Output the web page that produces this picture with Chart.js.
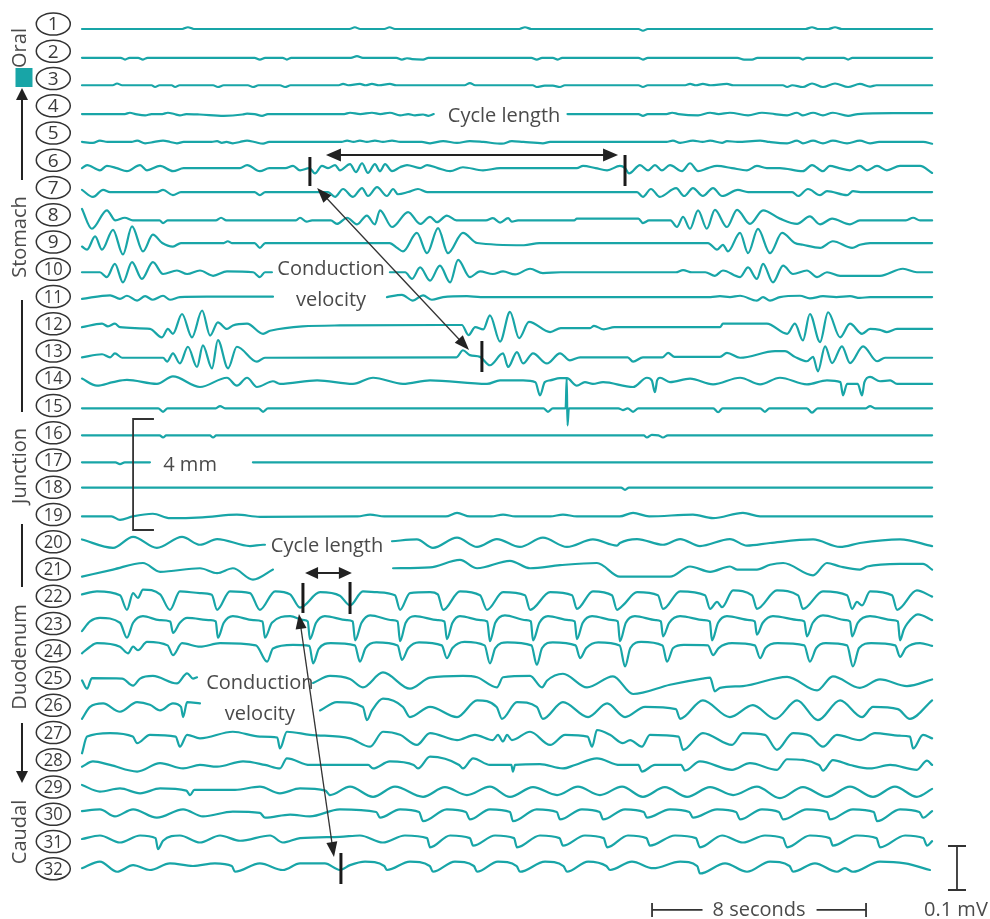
<!DOCTYPE html>
<html>
<head>
<meta charset="utf-8">
<title>Gastroduodenal slow-wave recording</title>
<script src="https://cdn.jsdelivr.net/npm/chart.js@4.4.1/dist/chart.umd.min.js"></script>
<style>
  html, body { margin: 0; padding: 0; background: #ffffff; }
  #wrap { width: 990px; height: 919px; position: relative; }
  canvas { display: block; }
</style>
</head>
<body>
<div id="wrap"><canvas id="chart" width="990" height="919"></canvas></div>
<script>
// ---------------- DATA: time (s), deflection (µV, upward positive) ----------------
const channelNames = ["1","2","3","4","5","6","7","8","9","10","11","12","13","14","15","16",
  "17","18","19","20","21","22","23","24","25","26","27","28","29","30","31","32"];

// DC level of each electrode's baseline (µV)
const baselineDrift = [0,-4,-5,-9,-11,-9,-2,-5,5,0,5,-2,-8,-4,-2,-2,-2,2,-2,3,-5,0,5,9,-2,-5,-11,-14,-11,0,2,2];

const ch1 = [[0,0],[3.75,0],[3.96,4],[4.18,0],[10.0,0],[10.2,4],[10.4,0],[11.3,0],[11.5,4],[11.7,0],[16.35,0],[16.56,4],[16.8,0],[20.8,0],[20.97,-4],[21.15,0],[27.05,0],[27.29,4],[27.5,0],[27.9,0],[28.15,4],[28.4,0],[31.78,0]];
const ch2 = [[0,0],[1.45,0],[1.61,-4],[1.78,0],[2.1,0],[2.28,-4],[2.45,0],[6.45,0],[6.65,-4],[6.85,0],[7.5,0],[7.66,-4],[7.82,0],[10.05,0],[10.28,4],[10.5,0],[11.75,0],[11.96,-4],[12.15,-1],[12.34,-3],[12.75,-4],[12.95,0],[16.8,0],[17.0,-4],[17.2,0],[17.6,0],[17.79,-4],[17.95,0],[20.8,0],[20.97,-4],[21.15,0],[24.5,0],[24.75,-4],[25.05,-4],[25.25,0],[26.8,0],[26.95,-4],[27.1,0],[28.48,0],[28.64,-4],[28.8,0],[31.78,0]];
const ch3 = [[0,0],[1.15,0],[1.31,4],[1.5,0],[2.6,0],[2.73,-4],[2.9,0],[3.35,0],[3.48,-4],[3.65,0],[4.9,0],[5.08,-4],[5.3,0],[6.2,0],[6.39,-4],[6.6,0],[7.4,0],[7.59,-4],[7.8,0],[9.6,0],[9.76,3],[9.95,0],[10.39,3],[10.6,0],[10.84,3],[11.1,0],[11.51,3],[11.75,0],[14.3,0],[14.5,5],[14.7,0],[16.85,0],[17.0,-4],[17.3,-1],[17.6,-1],[17.87,-4],[18.05,0],[20.8,0],[20.97,-4],[21.15,0],[22.55,0],[22.73,3],[22.95,0],[23.21,3],[23.5,0],[24.11,3],[24.35,0],[26.2,0],[26.36,-4],[26.55,0],[26.95,-4],[27.29,4],[27.7,-4],[28.15,4],[28.64,-4],[29.08,3],[29.46,-3],[29.7,0],[31.78,0]];
const ch4 = [[0,0],[1.6,0],[1.79,3],[2.0,0],[2.36,-3],[2.6,0],[3.0,0],[3.21,3],[3.45,0],[3.66,-3],[3.9,0],[4.4,-1],[5.3,-4],[6.0,-1],[6.17,1],[6.45,0],[6.73,-4],[6.95,0],[9.8,0],[10.02,3],[10.4,0],[10.84,3],[11.15,0],[11.51,3],[11.89,-3],[12.2,0],[12.45,-3],[12.75,-1],[12.95,-4],[13.15,0],[13.2,null],[18.1,null],[18.15,0],[20.8,0],[20.97,-4],[21.15,0],[21.85,0],[22.06,3],[22.3,0],[23.03,-3],[23.48,3],[23.8,0],[24.22,3],[24.9,-3],[25.42,3],[25.9,0],[26.36,-3],[26.73,3],[26.95,-3],[27.33,3],[27.7,-3],[28.07,3],[28.64,-4],[29.0,0],[30.32,2],[31.78,2]];
const ch5 = [[0,0],[0.41,-2],[0.67,3],[0.95,0],[1.85,0],[2.06,3],[2.36,-3],[2.7,0],[3.03,3],[3.3,0],[3.55,-3],[3.8,0],[4.85,0],[5.05,2],[5.23,-2],[5.4,0],[5.64,-3],[5.9,0],[6.17,3],[6.45,0],[6.77,-4],[7.0,0],[9.7,0],[9.91,3],[10.15,0],[10.39,3],[10.65,0],[10.95,3],[11.25,0],[11.59,3],[11.9,0],[12.7,0],[13.01,-3],[13.5,2],[14.02,-2],[14.5,2],[15.0,0],[15.7,-4],[16.07,2],[16.5,0],[17.23,-3],[17.5,0],[21.85,0],[22.09,3],[22.36,-2],[22.84,3],[23.2,0],[23.48,3],[23.93,-2],[24.11,2],[24.5,0],[25.35,3],[25.7,0],[26.36,-3],[26.73,3],[26.95,-3],[27.33,3],[27.7,-3],[28.07,3],[28.6,-3],[29.08,3],[29.46,-3],[29.8,0],[31.45,0],[31.78,-4]];
const ch6 = [[0,0],[0.19,7],[0.67,-5],[0.93,5],[1.3,0],[1.68,-7],[2.17,7],[2.43,-5],[2.92,5],[3.4,-7],[3.8,0],[5.9,0],[6.17,7],[6.65,-7],[7.0,0],[7.6,0],[7.89,5],[8.15,-5],[8.5,0],[8.71,-12],[8.97,5],[9.2,0],[9.46,7],[9.64,-5],[10.02,9],[10.24,-9],[10.47,11],[10.69,-11],[10.95,9],[11.14,-7],[11.33,9],[11.59,-7],[11.89,2],[12.15,7],[12.64,0],[12.9,7],[13.3,0],[13.76,-7],[14.24,2],[14.99,-5],[15.63,0],[18.5,0],[18.73,5],[19.2,0],[19.63,-5],[20.11,5],[20.3,0],[20.45,-12],[20.86,7],[21.16,-5],[21.42,7],[21.68,-5],[21.98,7],[22.43,-7],[22.73,11],[23.03,-7],[23.4,0],[23.74,5],[24.3,0],[24.86,-5],[25.23,5],[25.6,0],[26.09,0],[26.95,-7],[27.29,7],[27.7,-7],[27.96,5],[28.3,0],[28.71,-5],[29.08,5],[29.35,-5],[29.72,5],[30.09,-5],[30.58,5],[31.33,5],[31.78,-11]];
const ch7 = [[0,5],[0.41,-11],[0.79,5],[1.05,0],[2.8,0],[3.03,5],[3.4,-7],[3.7,0],[6.45,0],[6.65,-7],[6.85,0],[9.2,0],[9.46,-11],[9.76,7],[10.13,-11],[10.47,9],[10.69,-9],[11.03,11],[11.4,-9],[11.63,7],[11.81,-5],[12.19,0],[12.56,7],[12.9,0],[20.75,0],[20.97,-11],[21.27,7],[21.6,-11],[22.21,9],[22.51,-9],[22.84,9],[23.21,-9],[23.59,9],[23.93,-9],[24.52,5],[24.9,0],[26.55,0],[26.77,-9],[27.14,7],[27.59,-7],[27.85,2],[28.6,-7],[28.82,2],[29.1,0],[31.78,0]];
const ch8 = [[0,26],[0.37,-19],[0.93,23],[1.25,0],[1.6,6],[1.9,0],[2.9,0],[3.03,-6],[3.2,0],[5.0,0],[5.2,6],[5.4,0],[8.0,0],[8.15,6],[8.4,-3],[8.6,0],[9.3,0],[9.53,-8],[9.91,6],[10.28,-9],[10.65,11],[10.95,-9],[11.14,23],[11.59,-15],[12.19,19],[12.64,-8],[13.01,8],[13.27,-4],[13.64,11],[14.0,0],[15.1,0],[15.36,5],[15.63,-5],[15.93,5],[16.07,-3],[16.3,0],[18.4,0],[18.5,4],[20.8,4],[20.97,-6],[21.2,0],[22.0,0],[22.24,-15],[22.47,8],[22.73,-19],[23.03,23],[23.36,-19],[23.66,24],[24.11,-15],[24.49,24],[24.97,-8],[25.46,23],[26.09,4],[26.73,-8],[27.21,9],[27.59,-9],[28.04,4],[28.71,-9],[29.08,0],[30.8,0],[31.07,6],[31.33,0],[31.78,0]];
const ch9 = [[0,-8],[0.19,-15],[0.49,15],[0.75,-15],[1.16,30],[1.53,-26],[1.87,38],[2.28,-19],[2.65,19],[3.0,0],[3.4,-8],[3.7,0],[5.3,0],[5.45,4],[5.6,0],[6.45,0],[6.65,-11],[6.85,0],[11.5,0],[11.78,-11],[12.0,-19],[12.52,23],[12.9,-23],[13.31,34],[13.68,-23],[14.24,23],[14.77,0],[16.52,-5],[17.1,0],[23.4,0],[23.74,-15],[23.96,-4],[24.15,-19],[24.6,23],[24.9,-23],[25.27,32],[25.72,-23],[26.17,23],[26.65,0],[26.95,-4],[27.59,-11],[28.07,4],[28.79,-11],[29.08,-4],[29.46,0],[31.78,0]];
const ch10 = [[0,0],[0.67,0],[0.93,-11],[1.23,19],[1.53,-23],[1.87,23],[2.24,-15],[2.65,23],[3.03,-4],[3.55,4],[3.93,-4],[4.41,4],[4.9,-8],[5.42,2],[6.4,0],[6.65,-11],[6.84,0],[7.1,0],[7.15,null],[11.45,null],[11.51,0],[12.08,0],[12.34,-15],[12.64,11],[13.01,-19],[13.38,15],[13.76,-23],[14.06,28],[14.5,-11],[14.88,2],[15.36,-4],[15.74,2],[16.19,-5],[16.75,8],[17.23,-2],[17.9,0],[22.2,0],[22.47,5],[22.8,0],[23.3,0],[23.66,-8],[23.96,4],[24.6,-11],[24.9,11],[25.23,-15],[25.46,19],[25.83,-23],[26.21,15],[26.58,-4],[27.1,4],[27.48,-11],[27.85,0],[28.34,-8],[29.83,-8],[30.69,8],[31.21,0],[31.78,0]];
const ch11 = [[0,-4],[1.05,4],[1.42,-4],[1.68,3],[2.06,-8],[2.36,2],[2.65,-6],[3.03,3],[3.29,-6],[3.66,0],[4.67,1],[7.14,1],[7.2,null],[11.35,null],[11.4,0],[11.96,5],[12.37,-8],[12.75,4],[13.08,-6],[13.5,0],[14.39,2],[14.9,0],[23.5,0],[23.85,2],[24.22,0],[24.6,3],[25.23,-8],[25.46,0],[25.72,-8],[26.09,0],[26.84,3],[27.21,-3],[27.7,2],[28.2,0],[28.71,2],[29.08,-2],[29.46,0],[31.78,0]];
const ch12 = [[0,0],[0.75,8],[0.97,2],[1.23,8],[1.42,0],[2.54,-4],[2.99,-23],[3.21,-4],[3.4,-15],[3.74,30],[4.11,-23],[4.49,38],[4.79,-19],[5.08,11],[5.42,-4],[5.64,4],[6.17,8],[6.77,-15],[7.03,-8],[9.64,4],[14.2,5],[14.45,-18],[14.7,0],[15.0,-5],[15.25,27],[15.63,-33],[16.0,35],[16.34,-25],[16.71,12],[17.5,-11],[17.9,-2],[18.99,-2],[19.14,3],[19.5,-5],[19.9,0],[23.85,0],[23.96,8],[25.6,8],[26.36,-15],[26.65,8],[26.95,-30],[27.21,30],[27.59,-34],[27.89,34],[28.34,-23],[28.71,8],[29.16,-15],[29.46,-4],[29.83,-6],[30.09,-11],[30.47,-4],[31.78,-4]];
const ch13 = [[0,-1],[0.75,6],[1.05,-1],[1.23,8],[1.5,-2],[3.03,-2],[3.18,-11],[3.4,8],[3.66,-15],[3.96,23],[4.3,-23],[4.52,26],[4.86,-26],[5.08,38],[5.46,-26],[5.79,23],[6.54,-11],[6.84,-2],[14.0,-1],[14.24,15],[14.5,4],[14.88,0],[15.25,-19],[15.74,8],[15.93,-23],[16.26,11],[16.49,-15],[16.86,8],[17.38,-15],[17.87,8],[18.24,-8],[18.62,-1],[20.4,-1],[20.6,-11],[20.97,-1],[21.7,-1],[21.91,9],[22.15,0],[23.85,0],[24.11,9],[24.6,-2],[25.91,13],[26.28,13],[26.65,0],[27.1,-10],[27.33,0],[27.51,-33],[27.78,24],[28.04,-14],[28.41,24],[28.71,-14],[29.2,24],[29.72,-10],[30.02,-2],[31.78,-2]];
const ch14 = [[0,8],[0.56,-8],[1.16,0],[1.68,5],[2.8,-4],[3.4,13],[4.41,-11],[5.42,10],[5.79,-8],[6.17,10],[6.54,-11],[7.14,2],[7.4,-4],[8.79,4],[10.13,-4],[10.88,10],[12.0,-4],[13.01,4],[15.14,-4],[15.63,4],[16.49,4],[16.95,0],[17.12,-30],[17.3,0],[17.5,4],[17.87,9],[18.13,9],[18.5,-8],[18.8,0],[19.1,-4],[19.48,0],[20.6,-11],[21.12,10],[21.3,4],[21.42,-23],[21.5,4],[21.61,10],[21.98,0],[22.73,8],[23.59,-5],[24.6,10],[25.35,-5],[26.09,10],[27.1,-5],[27.85,4],[28.35,0],[28.45,-30],[28.6,-4],[28.79,-4],[29.0,-4],[29.16,-30],[29.25,0],[29.46,12],[29.83,2],[30.21,4],[30.47,-4],[31.78,-4]];
const ch15 = [[0,0],[2.85,0],[3.03,-8],[3.2,0],[5.0,0],[5.16,5],[5.35,0],[6.6,0],[6.77,-8],[6.95,0],[17.25,0],[17.42,-8],[17.6,0],[18.08,0],[18.12,68],[18.15,-39],[18.2,0],[20.05,0],[20.22,-4],[20.4,0],[20.6,-8],[20.8,0],[23.6,0],[23.78,-9],[23.95,0],[25.35,0],[25.53,-8],[25.7,0],[27.1,0],[27.29,-10],[27.5,0],[29.3,0],[29.46,5],[29.65,0],[31.78,0]];
const ch16 = [[0,0],[2.9,0],[3.03,-5],[3.15,0],[4.78,0],[4.9,-5],[5.02,0],[21.0,0],[21.12,-5],[21.3,1],[21.55,0],[21.72,-5],[21.9,0],[31.78,0]];
const ch17 = [[0,0],[1.25,0],[1.42,-4],[1.6,0],[2.54,0],[2.6,null],[6.35,null],[6.39,0],[31.78,0]];
const ch18 = [[0,0],[20.15,0],[20.3,-5],[20.45,0],[31.78,0]];
const ch19 = [[0,0],[1.1,0],[1.42,-8],[1.9,0],[2.65,6],[3.29,-4],[4.5,-2],[5.79,4],[6.65,-1],[10.3,0],[10.77,4],[11.3,0],[13.6,0],[14.02,8],[14.5,0],[15.3,0],[15.74,4],[16.2,0],[17.5,0],[17.98,4],[18.5,0],[20.1,0],[20.6,8],[21.2,0],[22.84,4],[23.59,-4],[24.71,8],[25.35,0],[31.78,0]];
const ch20 = [[0,4],[1.16,-15],[1.91,10],[2.8,-15],[3.74,10],[4.41,-8],[5.05,5],[6.28,-11],[6.77,-8],[6.84,-8],[6.9,null],[11.55,null],[11.59,0],[12.52,4],[13.12,-15],[14.02,8],[14.77,-13],[15.51,5],[16.37,-13],[17.23,8],[18.13,-13],[19.1,4],[20.0,-10],[20.11,-4],[20.75,5],[21.72,-8],[22.36,5],[23.1,-11],[24.22,5],[24.86,-10],[25.72,-4],[27.33,4],[28.34,-13],[29.08,-4],[30.58,4],[31.78,-11]];
const ch21 = [[0,-11],[1.16,5],[2.28,20],[2.92,0],[4.41,8],[5.05,-3],[5.64,8],[6.39,-18],[7.14,5],[7.2,null],[11.6,null],[11.63,8],[13.01,10],[14.13,27],[14.77,8],[16.0,25],[16.75,8],[17.87,15],[19.25,20],[20.11,-11],[21.98,-11],[22.73,12],[23.48,0],[24.22,12],[24.49,5],[25.23,5],[25.72,16],[26.21,20],[27.33,-8],[27.85,20],[28.34,12],[29.08,5],[29.35,12],[30.58,18],[31.44,18],[31.78,5]];
const ch22 = [[0,5],[0.56,12],[1.42,3],[1.68,-30],[1.91,8],[2.09,-3],[2.28,16],[2.92,5],[3.29,-30],[3.66,12],[4.41,8],[4.85,4],[5.05,-30],[5.53,12],[6.28,8],[6.65,-30],[7.22,12],[7.78,5],[8.15,-25],[8.9,10],[9.64,2],[10.02,-20],[10.5,12],[11.03,10],[11.7,3],[11.89,-30],[12.26,8],[13.01,10],[13.3,5],[13.5,-30],[14.13,12],[14.88,3],[15.14,-30],[15.74,10],[16.56,3],[16.75,-30],[17.5,10],[18.32,3],[18.5,-28],[19.1,12],[19.81,3],[20.0,-30],[20.22,-20],[20.75,10],[21.53,3],[21.72,-28],[22.36,12],[23.29,3],[23.48,-28],[23.74,-12],[23.93,-24],[24.34,14],[25.05,3],[25.23,-28],[25.98,14],[26.77,3],[26.95,-28],[27.7,12],[28.6,3],[28.79,-28],[28.97,-12],[29.16,-20],[29.46,12],[30.28,3],[30.47,-30],[31.21,14],[31.78,0]];
const ch23 = [[0,-22],[0.3,0],[0.67,8],[1.42,-3],[1.68,-37],[1.91,-3],[2.28,12],[2.9,3],[3.3,0],[3.4,-26],[3.66,-3],[3.93,8],[4.8,3],[5.0,0],[5.08,-37],[5.3,-3],[5.64,12],[6.4,3],[6.75,0],[6.84,-37],[7.1,-3],[7.78,12],[8.3,3],[8.44,0],[8.52,-40],[8.75,-3],[9.08,12],[9.9,3],[10.12,0],[10.21,-43],[10.45,-3],[10.77,14],[11.6,3],[11.8,0],[11.89,-45],[12.1,-3],[12.45,12],[13.3,3],[13.55,0],[13.64,-40],[13.85,-3],[14.13,12],[14.9,3],[15.15,0],[15.25,-45],[15.45,-3],[15.81,14],[16.6,3],[16.78,0],[16.86,-43],[17.1,-3],[17.42,12],[18.2,3],[18.42,0],[18.5,-40],[18.72,-3],[19.07,12],[19.85,3],[20.03,0],[20.11,-45],[20.33,-3],[20.67,12],[21.45,3],[21.64,0],[21.72,-34],[21.95,-3],[22.36,12],[23.25,3],[23.47,0],[23.55,-43],[23.78,-3],[24.11,12],[24.95,3],[25.15,0],[25.23,-30],[25.45,-3],[25.83,12],[26.8,3],[27.0,0],[27.1,-34],[27.32,-3],[27.7,14],[28.55,3],[28.71,0],[28.79,-34],[29.0,-3],[29.46,12],[30.3,3],[30.5,0],[30.58,-43],[30.72,-19],[30.85,-5],[31.25,16],[31.78,3]];
const ch24 = [[0,-15],[0.3,0],[0.56,8],[1.42,0],[1.72,-15],[1.91,0],[2.09,-8],[2.43,11],[3.2,3],[3.4,-19],[3.74,8],[4.41,0],[5.16,8],[6.5,3],[6.92,-34],[7.14,-4],[7.89,4],[8.5,2],[8.64,-38],[8.85,-5],[9.3,8],[10.2,3],[10.39,-34],[10.6,-3],[11.0,10],[11.8,3],[11.96,-30],[12.2,-3],[12.6,10],[13.45,3],[13.64,-26],[13.85,-3],[14.3,11],[15.05,3],[15.25,-38],[15.45,-3],[15.9,10],[16.8,3],[17.0,-41],[17.2,-3],[17.6,10],[18.45,3],[18.62,-26],[18.85,-3],[19.3,10],[20.1,3],[20.3,-45],[20.5,-3],[20.9,11],[21.7,3],[21.87,-34],[22.1,-3],[22.5,4],[23.4,3],[23.59,-19],[23.8,-3],[24.3,8],[25.15,3],[25.35,-26],[25.55,-3],[26.0,8],[27.0,3],[27.21,-34],[27.45,-3],[27.8,8],[28.6,3],[28.82,-45],[29.05,-3],[29.5,8],[30.4,3],[30.58,-23],[30.8,-3],[31.33,8],[31.78,2]];
const ch25 = [[0,-4],[0.19,-23],[0.37,1],[1.5,0],[1.91,-16],[2.17,0],[2.65,6],[3.55,-11],[3.93,12],[4.15,0],[4.3,3],[4.35,null],[8.6,null],[8.64,-10],[9.27,6],[10.02,-1],[10.5,-20],[11.25,14],[12.26,-23],[13.01,2],[14.24,6],[14.77,3],[15.51,-20],[15.74,3],[16.75,6],[17.2,-20],[17.38,-5],[17.98,11],[18.88,-20],[19.85,5],[20.6,-35],[21.98,-14],[23.2,0],[23.48,2],[23.66,-29],[23.85,-21],[24.71,-17],[26.36,4],[27.48,-27],[28.07,5],[29.08,-21],[29.83,-2],[30.84,-17],[31.78,-2]];
const ch26 = [[0,-27],[0.3,0],[0.79,8],[1.42,-11],[2.06,11],[2.54,5],[2.92,-8],[3.4,8],[3.7,0],[3.78,-23],[3.93,11],[4.41,8],[4.45,null],[8.85,null],[8.9,-8],[9.53,11],[10.5,0],[10.65,-30],[10.84,-8],[11.25,19],[12.0,0],[12.26,-23],[13.01,0],[14.02,-23],[14.77,15],[15.5,0],[15.7,-27],[16.26,11],[17.0,0],[17.23,-27],[17.98,11],[18.92,-23],[19.63,8],[20.3,-23],[21.05,0],[22.2,-5],[22.36,-27],[23.21,15],[24.22,-23],[25.08,4],[25.91,-27],[26.73,15],[27.51,-30],[28.34,15],[29.16,-23],[29.57,0],[30.5,-5],[30.95,-27],[31.78,15]];
const ch27 = [[0,-38],[0.19,0],[1.05,8],[1.9,0],[2.06,-15],[2.54,4],[3.5,0],[3.66,-23],[3.93,4],[4.41,-4],[5.64,11],[6.65,0],[7.3,-2],[7.4,-27],[7.66,11],[8.52,4],[10.02,-4],[10.77,-23],[11.25,11],[11.89,4],[12.52,-19],[13.01,8],[14.02,-8],[14.69,4],[15.36,-8],[15.55,4],[15.74,-11],[15.89,4],[16.07,-8],[16.75,11],[17.5,-19],[18.06,4],[18.9,0],[19.07,-23],[19.25,15],[19.74,4],[20.22,-15],[20.49,-8],[20.93,-23],[21.23,4],[22.3,0],[22.47,-30],[23.21,8],[24.3,-19],[24.71,8],[25.53,4],[25.98,-30],[26.58,8],[27.21,2],[27.7,-23],[28.22,4],[29.08,-8],[29.64,8],[30.58,2],[30.95,0],[31.07,-27],[31.44,4],[31.78,-4]];
const ch28 = [[0,-4],[0.41,8],[1.05,0],[2.06,-15],[2.92,4],[3.78,-8],[4.41,0],[5.05,-4],[6.02,8],[6.84,0],[7.4,-8],[7.66,15],[8.52,0],[10.7,0],[10.88,-8],[11.51,8],[12.4,0],[12.56,-8],[13.01,19],[14.1,0],[14.24,-8],[14.62,15],[15.25,0],[16.05,0],[16.11,-15],[16.19,0],[17.12,2],[17.98,-8],[18.43,0],[19.25,15],[20.11,0],[20.8,0],[20.93,-15],[21.42,0],[22.4,0],[22.54,-13],[23.1,8],[24.3,-11],[24.97,4],[25.98,-11],[26.36,13],[27.55,0],[27.7,-13],[28.07,11],[28.71,0],[29.46,-8],[30.21,0],[31.21,-11],[31.59,10],[31.78,0]];
const ch29 = [[0,13],[0.67,-2],[1.42,5],[2.17,-6],[2.92,5],[3.9,0],[4.04,-10],[4.2,2],[5.72,2],[6.65,9],[7.4,-6],[8.15,5],[9.1,0],[9.27,-10],[10.02,9],[10.88,-14],[11.7,9],[12.75,-14],[13.57,8],[14.39,-10],[15.25,9],[16.0,-14],[16.86,8],[17.76,-10],[18.54,9],[19.36,-10],[20.19,9],[20.97,-14],[21.79,8],[22.62,-14],[23.48,8],[24.34,-10],[25.23,9],[26.09,-17],[26.95,8],[27.85,-14],[28.71,9],[29.57,-14],[30.39,9],[31.21,-14],[31.78,4]];
const ch30 = [[0,4],[0.67,8],[1.23,-8],[1.91,8],[2.8,-11],[3.78,8],[4.52,-8],[5.64,3],[6.65,0],[6.84,-11],[7.78,-4],[8.52,-8],[9.64,8],[11.0,2],[11.14,-11],[11.89,8],[12.6,2],[12.75,-19],[13.64,8],[14.35,2],[14.5,-15],[15.25,8],[16.0,2],[16.11,-19],[17.0,8],[17.75,2],[17.87,-15],[18.69,8],[19.35,2],[19.48,-15],[20.3,8],[21.0,2],[21.12,-11],[21.98,8],[22.7,2],[22.84,-11],[23.74,8],[24.45,2],[24.6,-15],[25.42,8],[26.05,2],[26.21,-15],[27.1,8],[27.85,2],[27.96,-15],[28.82,8],[29.6,2],[29.72,-19],[30.58,8],[31.3,2],[31.44,-11],[31.78,4]];
const ch31 = [[0,0],[0.67,8],[1.42,-8],[2.17,8],[2.75,2],[2.84,-23],[3.03,-4],[3.66,8],[4.41,-8],[5.16,8],[5.91,-4],[7.03,8],[7.51,-8],[8.15,2],[9.64,5],[10.39,8],[11.25,-8],[12.07,8],[12.9,2],[13.01,-19],[13.76,8],[14.5,2],[14.62,-15],[15.44,8],[16.15,2],[16.26,-19],[17.12,8],[17.85,2],[17.98,-15],[18.8,8],[19.5,2],[19.63,-19],[20.41,8],[21.1,2],[21.23,-15],[22.17,8],[22.95,2],[23.1,-19],[23.93,8],[24.71,-8],[25.53,8],[26.2,2],[26.36,-19],[27.21,8],[27.95,2],[28.07,-15],[28.97,8],[29.7,2],[29.83,-19],[30.77,8],[31.45,2],[31.59,-15],[31.78,-5]];
const ch32 = [[0,-5],[0.67,10],[1.31,-13],[1.91,2],[2.54,-9],[3.29,6],[4.15,0],[4.97,6],[5.6,0],[5.72,-13],[6.65,6],[7.51,-9],[8.15,6],[9.08,6],[9.64,-9],[10.02,2],[10.58,10],[11.3,0],[11.4,-9],[12.26,10],[13.0,0],[13.12,-13],[13.94,10],[14.65,0],[14.77,-13],[15.55,10],[16.25,0],[16.37,-13],[17.31,10],[18.0,0],[18.13,-13],[18.92,10],[19.6,0],[19.74,-9],[20.56,10],[21.35,-5],[22.36,10],[23.0,0],[23.1,-17],[24.04,6],[24.86,-13],[25.72,10],[26.45,0],[26.58,-13],[27.4,6],[28.22,-13],[28.52,-5],[28.82,-13],[29.83,10],[30.77,6],[31.7,-9]];

const traces = [ch1,ch2,ch3,ch4,ch5,ch6,ch7,ch8,ch9,ch10,ch11,ch12,ch13,ch14,ch15,ch16,
  ch17,ch18,ch19,ch20,ch21,ch22,ch23,ch24,ch25,ch26,ch27,ch28,ch29,ch30,ch31,ch32];

// Scale bars (data units)
const timeBarSeconds = 8;
const voltBarMicroV = 100;

// ---------------- LAYOUT (data-space positions for annotations) ----------------
const CH_SPACING = 61.43;                 // µV between channel baselines
const X_RANGE = [-3.065, 33.944];          // seconds
const Y_RANGE = [-2022.73, 65.91];         // µV
const LBL = { t: -1.073, top: 11.36, step: 61.93 };
const REGION_T = -2.318;
const TEAL = '#18a5a7';
const INK = '#4a4a4a';
const FONT = '"Open Sans", "DejaVu Sans", sans-serif';

const datasets = traces.map((tr, i) => ({
  label: 'Electrode ' + channelNames[i],
  data: tr.map(([t, v]) => ({ x: t, y: v === null ? null : v + baselineDrift[i] - i * CH_SPACING })),
  borderColor: TEAL,
  borderWidth: 2.2,
  pointRadius: 0,
  fill: false,
  spanGaps: false,
  cubicInterpolationMode: 'monotone',
  borderJoinStyle: 'round',
  borderCapStyle: 'round'
}));

function head(ctx, x1, y1, x2, y2, len, half) {
  const a = Math.atan2(y2 - y1, x2 - x1);
  const bx = x2 - len * Math.cos(a), by = y2 - len * Math.sin(a);
  ctx.beginPath();
  ctx.moveTo(x2, y2);
  ctx.lineTo(bx + half * Math.sin(a), by - half * Math.cos(a));
  ctx.lineTo(bx - half * Math.sin(a), by + half * Math.cos(a));
  ctx.closePath();
  ctx.fill();
}
function dblArrow(ctx, x1, y1, x2, y2, len, half, lw) {
  const a = Math.atan2(y2 - y1, x2 - x1);
  ctx.lineWidth = lw;
  ctx.beginPath();
  ctx.moveTo(x1 + (len - 2) * Math.cos(a), y1 + (len - 2) * Math.sin(a));
  ctx.lineTo(x2 - (len - 2) * Math.cos(a), y2 - (len - 2) * Math.sin(a));
  ctx.stroke();
  head(ctx, x2, y2, x1, y1, len, half);
  head(ctx, x1, y1, x2, y2, len, half);
}

const annotations = {
  id: 'annotations',
  afterDatasetsDraw(chart) {
    const ctx = chart.ctx;
    const X = v => chart.scales.x.getPixelForValue(v);
    const Y = v => chart.scales.y.getPixelForValue(v);
    ctx.save();
    ctx.textAlign = 'center';
    ctx.textBaseline = 'middle';

    // electrode number ellipses
    channelNames.forEach((n, i) => {
      const cx = X(LBL.t), cy = Y(LBL.top - i * LBL.step);
      ctx.beginPath();
      ctx.ellipse(cx, cy, 17, 11, 0, 0, Math.PI * 2);
      ctx.fillStyle = '#fff';
      ctx.fill();
      ctx.lineWidth = 1.5;
      ctx.strokeStyle = '#333';
      ctx.stroke();
      ctx.fillStyle = '#3a3a3a';
      ctx.font = (n.length > 1 ? '18px ' : '19px ') + FONT;
      if (n.length > 1) {
        ctx.save();
        ctx.translate(cx, cy + 1);
        ctx.scale(0.92, 1);
        ctx.fillText(n, 0, 0);
        ctx.restore();
      } else {
        ctx.fillText(n, cx, cy + 1);
      }
    });

    // region names (rotated)
    ctx.fillStyle = INK;
    ctx.font = '20px ' + FONT;
    [['Oral', -43.18], ['Stomach', -472.7], ['Junction', -993.2], ['Duodenum', -1427.2], ['Caudal', -1825.0]]
      .forEach(([txt, v]) => {
        ctx.save();
        ctx.translate(X(REGION_T), Y(v));
        ctx.rotate(-Math.PI / 2);
        ctx.fillText(txt, 0, 0);
        ctx.restore();
      });
    // teal square
    ctx.fillStyle = TEAL;
    ctx.fillRect(X(-2.168) - 8.5, Y(-110.23) - 9.5, 17, 19);
    // side lines & arrows
    ctx.strokeStyle = '#222';
    ctx.fillStyle = '#222';
    ctx.lineWidth = 2;
    const sx = X(-2.243);
    ctx.beginPath();
    ctx.moveTo(sx, Y(-343.2)); ctx.lineTo(sx, Y(-134.1) + 8);
    ctx.moveTo(sx, Y(-615.9)); ctx.lineTo(sx, Y(-870.5));
    ctx.moveTo(sx, Y(-1125.0)); ctx.lineTo(sx, Y(-1268.2));
    ctx.moveTo(sx, Y(-1577.2)); ctx.lineTo(sx, Y(-1713.6) - 8);
    ctx.stroke();
    head(ctx, sx, Y(-343.2), sx, Y(-134.1), 12, 6);
    head(ctx, sx, Y(-1577.2), sx, Y(-1713.6), 12, 6);

    // marker bars
    ctx.lineWidth = 3;
    ctx.strokeStyle = '#1a1a1a';
    [[8.52, -290.9, -356.8], [20.3, -286.4, -356.8], [14.95, -709.1, -779.5],
     [8.26, -1259.0, -1327.2], [10.02, -1256.8, -1329.5], [9.68, -1872.7, -1943.2]]
      .forEach(([t, a, b]) => {
        ctx.beginPath(); ctx.moveTo(X(t), Y(a)); ctx.lineTo(X(t), Y(b)); ctx.stroke();
      });

    // cycle length arrows
    ctx.strokeStyle = '#222';
    ctx.fillStyle = '#222';
    dblArrow(ctx, X(9.12), Y(-286.4), X(20.04), Y(-286.4), 15, 6.5, 2);
    dblArrow(ctx, X(8.34), Y(-1236.3), X(10.09), Y(-1236.3), 13, 6, 2);
    // conduction velocity arrows
    ctx.strokeStyle = '#333';
    ctx.fillStyle = '#222';
    dblArrow(ctx, X(8.79), Y(-361.4), X(14.47), Y(-729.5), 15, 5.5, 1.3);
    dblArrow(ctx, X(8.11), Y(-1329.5), X(9.42), Y(-1881.8), 15, 5.5, 1.3);

    // text labels
    ctx.fillStyle = INK;
    ctx.font = '20px ' + FONT;
    ctx.fillText('Cycle length', X(15.78), Y(-197.7));
    ctx.fillText('Conduction', X(9.31), Y(-545.5));
    ctx.fillText('velocity', X(9.31), Y(-615.9));
    ctx.fillText('4 mm', X(4.04), Y(-990.9));
    ctx.fillText('Cycle length', X(9.16), Y(-1175.0));
    ctx.fillText('Conduction', X(6.65), Y(-1486.4));
    ctx.fillText('velocity', X(6.65), Y(-1556.8));

    // 4 mm bracket
    ctx.strokeStyle = '#333';
    ctx.lineWidth = 1.8;
    ctx.beginPath();
    ctx.moveTo(X(2.69), Y(-886.4)); ctx.lineTo(X(1.91), Y(-886.4));
    ctx.lineTo(X(1.91), Y(-1138.6)); ctx.lineTo(X(2.69), Y(-1138.6));
    ctx.stroke();

    // time scale bar
    const t0 = 21.31, ty = Y(-2002.2);
    const xa = X(t0), xb = X(t0 + timeBarSeconds), xm = X(t0 + timeBarSeconds / 2);
    const tw = ctx.measureText('8 seconds').width;
    ctx.lineWidth = 1.8;
    ctx.beginPath();
    ctx.moveTo(xa, ty); ctx.lineTo(xm - tw / 2 - 10, ty);
    ctx.moveTo(xm + tw / 2 + 11, ty); ctx.lineTo(xb, ty);
    ctx.moveTo(xa, ty - 7); ctx.lineTo(xa, ty + 7);
    ctx.moveTo(xb, ty - 7); ctx.lineTo(xb, ty + 7);
    ctx.stroke();
    ctx.fillText(timeBarSeconds + ' seconds', xm, ty);

    // voltage scale bar
    const vx = X(32.71), v0 = -1856.8;
    ctx.beginPath();
    ctx.moveTo(vx, Y(v0)); ctx.lineTo(vx, Y(v0 - voltBarMicroV));
    ctx.moveTo(vx - 9, Y(v0)); ctx.lineTo(vx + 9, Y(v0));
    ctx.moveTo(vx - 9, Y(v0 - voltBarMicroV)); ctx.lineTo(vx + 9, Y(v0 - voltBarMicroV));
    ctx.stroke();
    ctx.fillText((voltBarMicroV / 1000) + ' mV', X(32.67), ty);

    ctx.restore();
  }
};

new Chart(document.getElementById('chart'), {
  type: 'line',
  data: { datasets },
  options: {
    responsive: false,
    animation: false,
    events: [],
    layout: { padding: 0 },
    plugins: { legend: { display: false }, tooltip: { enabled: false }, title: { display: false } },
    scales: {
      x: { type: 'linear', display: false, min: X_RANGE[0], max: X_RANGE[1] },
      y: { type: 'linear', display: false, min: Y_RANGE[0], max: Y_RANGE[1] }
    }
  },
  plugins: [annotations]
});
</script>
</body>
</html>
